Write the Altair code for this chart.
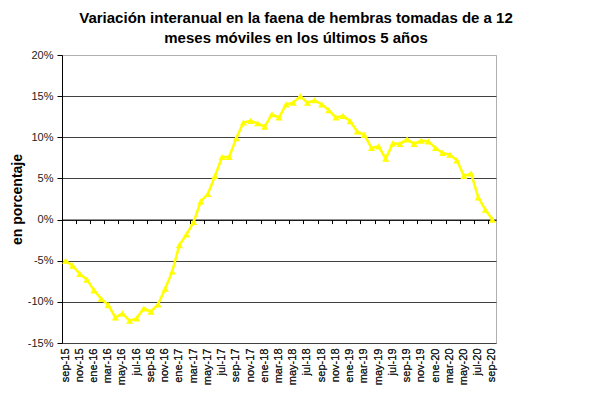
import altair as alt
import pandas as pd

meses = ["ene", "feb", "mar", "abr", "may", "jun", "jul", "ago", "sep", "oct", "nov", "dic"]
periodos = [f"{meses[(8 + i) % 12]}-{15 + (8 + i) // 12}" for i in range(61)]

variacion = [
    -5.0, -5.6, -6.6, -7.3, -8.6, -9.6, -10.4, -11.9, -11.4, -12.3, -12.0, -10.8,
    -11.2, -10.3, -8.4, -6.3, -3.1, -1.8, -0.3, 2.2, 3.1, 5.3, 7.6, 7.6,
    9.9, 11.8, 12.0, 11.7, 11.3, 12.8, 12.4, 14.0, 14.2, 15.0, 14.2, 14.5,
    14.0, 13.3, 12.4, 12.6, 11.95, 10.7, 10.3, 8.7, 8.9, 7.4, 9.26, 9.2,
    9.75, 9.2, 9.6, 9.5, 8.7, 8.1, 7.9, 7.2, 5.3, 5.6, 2.7, 1.2, 0.0,
]

y_ticks = [-0.15, -0.10, -0.05, 0.0, 0.05, 0.10, 0.15, 0.20]
x_label_values = periodos[::2]

df = pd.DataFrame({"periodo": periodos, "valor": [v / 100 for v in variacion]})

FONT = "Liberation Sans"

x_scale = alt.Scale(type="band", paddingInner=0, paddingOuter=0)
y_scale = alt.Scale(domain=[-0.15, 0.20], nice=False, zero=False)

y_enc = alt.Y(
    "valor:Q",
    scale=y_scale,
    axis=alt.Axis(
        values=y_ticks,
        labelExpr="(datum.value < 0 ? '-' : '') + format(abs(datum.value) * 100, '.0f') + '%'",
        title="en porcentaje",
        titleFont=FONT,
        titleFontSize=14,
        titleFontWeight="bold",
        titleColor="#000000",
        titlePadding=3,
        labelFont=FONT,
        labelFontSize=11,
        labelColor="#222222",
        labelPadding=4,
        domainColor="#000000",
        tickColor="#000000",
        tickSize=5,
        grid=True,
        gridColor={"condition": {"test": "datum.value > 0.19", "value": "#b0b0b0"}, "value": "#404040"},
        gridWidth=1,
    ),
)

main = alt.Chart(df).encode(
    x=alt.X(
        "periodo:O",
        sort=periodos,
        scale=x_scale,
        axis=alt.Axis(
            orient="bottom",
            values=x_label_values,
            labelAngle=-90,
            labelFont=FONT,
            labelFontSize=11,
            labelColor="#222222",
            labelPadding=5,
            ticks=False,
            domain=False,
            grid=False,
            title=None,
        ),
    ),
    y=y_enc,
)

line = main.mark_line(color="#FFFF00", strokeWidth=2.5)
pts = main.mark_point(shape="triangle-up", filled=True, color="#FFFF00", size=50, opacity=1)

zero_axis = alt.Chart(df).mark_point(opacity=0).encode(
    x=alt.X(
        "periodo:O",
        sort=periodos,
        scale=x_scale,
        axis=alt.Axis(
            orient="bottom",
            values=x_label_values,
            bandPosition=0,
            offset=-123.43,
            labels=False,
            ticks=True,
            tickSize=4,
            tickColor="#000000",
            domain=True,
            domainColor="#000000",
            grid=False,
            title=None,
        ),
    ),
    y=alt.value(0),
)

chart = (
    alt.layer(line, pts, zero_axis)
    .resolve_axis(x="independent")
    .properties(
        width=434,
        height=288,
        autosize=alt.AutoSizeParams(type="none"),
        padding={"left": 54, "top": 47, "right": 90, "bottom": 48},
        background="#ffffff",
        title=alt.TitleParams(
            text=[
                "Variación interanual en la faena de hembras tomadas de a 12",
                "meses móviles en los últimos 5 años",
            ],
            font=FONT,
            fontSize=15,
            fontWeight="bold",
            color="#000000",
            anchor="middle",
            lineHeight=20,
            offset=3,
            dx=17,
        ),
    )
    .configure_view(stroke="#b0b0b0", fill="#ffffff", strokeWidth=1)
)

chart.save("out.html", embed_options={"renderer": "svg", "actions": False})
